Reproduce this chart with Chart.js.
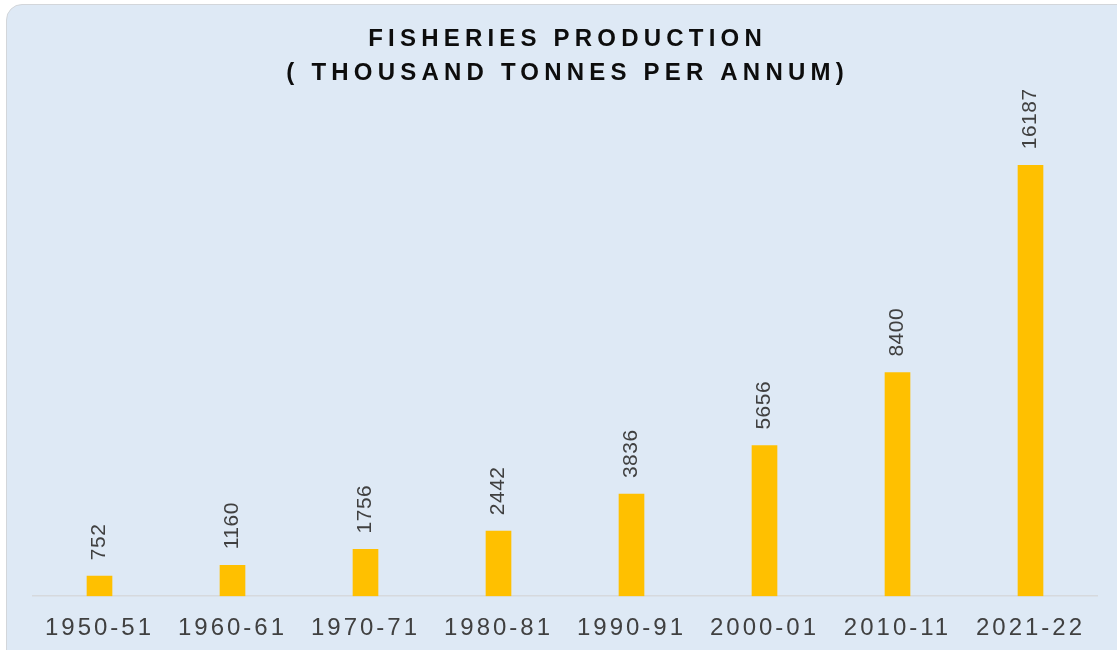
<!DOCTYPE html>
<html>
<head>
<meta charset="utf-8">
<script src="https://cdn.jsdelivr.net/npm/chart.js@4/dist/chart.umd.min.js"></script>
<style>
  html, body { margin: 0; padding: 0; background: #ffffff; overflow: hidden; }
  #panel {
    position: absolute; left: 6px; top: 4px; width: 1130px; height: 670px;
    background: #dee9f5; border: 1.5px solid #d3d6da; border-radius: 16px;
  }
  #wrap { position: absolute; left: 0; top: 0; width: 1117px; height: 650px; }
</style>
</head>
<body>
<div id="panel"></div>
<div id="wrap"><canvas id="fishChart" width="1117" height="650"></canvas></div>
<script>
const years = ["1950-51", "1960-61", "1970-71", "1980-81", "1990-91", "2000-01", "2010-11", "2021-22"];
const production = [752, 1160, 1756, 2442, 3836, 5656, 8400, 16187];
const titleLines = ["FISHERIES PRODUCTION", "( THOUSAND TONNES PER ANNUM)"];

// canvas text with spacing between letters (centered on the ink, not the trailing gap)
function spacedText(ctx, text, x, y, spacing) {
  ctx.letterSpacing = spacing + "px";
  const w = ctx.measureText(text).width - spacing;
  ctx.textAlign = "left";
  ctx.fillText(text, x - w / 2, y);
}

const spacingPlugin = {
  id: "tickSpacing",
  beforeLayout(chart) { chart.ctx.letterSpacing = "3px"; },
  beforeDraw(chart) { chart.ctx.letterSpacing = "3px"; },
};

const titlePlugin = {
  id: "spacedTitle",
  afterDraw(chart) {
    const { ctx, chartArea } = chart;
    const cx = (chartArea.left + chartArea.right) / 2;
    ctx.save();
    ctx.font = "bold 24px 'Liberation Sans', Arial, sans-serif";
    ctx.fillStyle = "#0d0d0d";
    ctx.textBaseline = "middle";
    spacedText(ctx, titleLines[0], cx, 39, 5.2);
    spacedText(ctx, titleLines[1], cx, 73, 5.2);
    ctx.restore();
  },
};

const valueLabels = {
  id: "valueLabels",
  afterDatasetsDraw(chart) {
    const { ctx } = chart;
    const meta = chart.getDatasetMeta(0);
    ctx.save();
    ctx.font = "21px 'Liberation Sans', Arial, sans-serif";
    ctx.fillStyle = "#404040";
    ctx.letterSpacing = "0.5px";
    ctx.textBaseline = "middle";
    ctx.textAlign = "left";
    meta.data.forEach((bar, i) => {
      ctx.save();
      ctx.translate(bar.x, bar.y - 16);
      ctx.rotate(-Math.PI / 2);
      ctx.fillText(String(production[i]), 0, 0);
      ctx.restore();
    });
    ctx.restore();
  },
};

const ctx = document.getElementById("fishChart").getContext("2d");
new Chart(ctx, {
  type: "bar",
  data: {
    labels: years,
    datasets: [
      {
        label: "Fisheries production",
        data: production,
        backgroundColor: "#ffc000",
        borderWidth: 0,
        barThickness: 25,
      },
    ],
  },
  plugins: [spacingPlugin, titlePlugin, valueLabels],
  options: {
    responsive: false,
    animation: false,
    layout: { padding: { left: 33, right: 20, top: 117, bottom: -11 } },
    plugins: {
      legend: { display: false },
      title: { display: false },
      tooltip: { enabled: false },
    },
    scales: {
      x: {
        grid: { display: false, drawTicks: false },
        border: { display: true, color: "#d6d9dd", width: 1.5 },
        ticks: {
          color: "#404040",
          padding: 18,
          font: { size: 24, family: "'Liberation Sans', Arial, sans-serif" },
        },
      },
      y: {
        display: false,
        min: 0,
        max: 18000,
      },
    },
  },
});
</script>
</body>
</html>
